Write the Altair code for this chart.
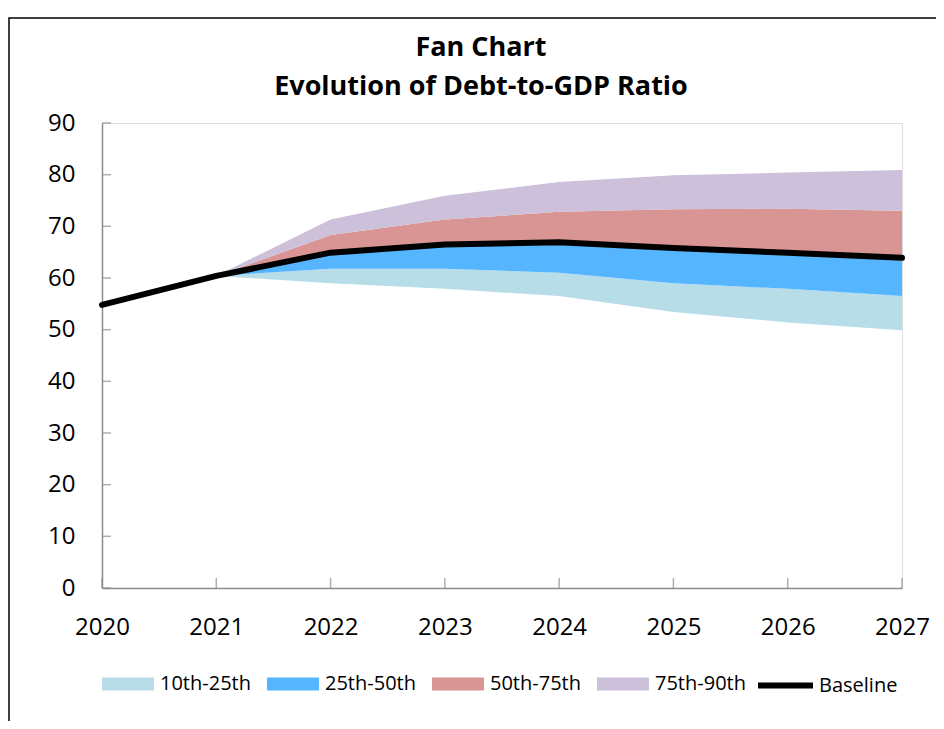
import altair as alt
import pandas as pd

# ---- data ----
years = [2020, 2021, 2022, 2023, 2024, 2025, 2026, 2027]
baseline = [54.8, 60.4, 64.9, 66.5, 66.9, 65.8, 64.9, 63.9]

fan_years = [2021, 2022, 2023, 2024, 2025, 2026, 2027]
p10 = [60.4, 59.0, 57.9, 56.5, 53.4, 51.4, 49.9]
p25 = [60.4, 61.8, 61.8, 61.0, 59.0, 57.9, 56.5]
p50 = [60.4, 64.9, 66.5, 66.9, 65.8, 64.9, 63.9]
p75 = [60.4, 68.3, 71.3, 72.8, 73.3, 73.4, 73.0]
p90 = [60.4, 71.3, 75.9, 78.6, 79.9, 80.4, 80.9]

band_names = ["10th-25th", "25th-50th", "50th-75th", "75th-90th"]
band_colors = ["#B7DDE8", "#55B6FF", "#D99594", "#CCC0DA"]
line_name = "Baseline"
y_ticks = [0, 10, 20, 30, 40, 50, 60, 70, 80, 90]

# ---- tables ----
lows = [p10, p25, p50, p75]
highs = [p25, p50, p75, p90]
rows = []
for b, name in enumerate(band_names):
    for i, yr in enumerate(fan_years):
        rows.append({"year": yr, "band": name, "lo": lows[b][i], "hi": highs[b][i]})
df_bands = pd.DataFrame(rows)
df_line = pd.DataFrame({"year": years, "value": baseline, "series": line_name})
df_xt = pd.DataFrame({"year": years})
df_yt = pd.DataFrame({"v": y_ticks})
df_frame = pd.DataFrame({"f": [0]})

W, H = 800, 465
FONT = "Open Sans"
GRAY = "#8C8C8C"

xscale = alt.Scale(domain=[2020, 2027], nice=False)
yscale = alt.Scale(domain=[0, 90], nice=False)

xaxis = alt.Axis(values=years, format="d", title=None, grid=False, tickSize=0,
                 labelFontSize=24, labelFont=FONT, labelColor="#000000", labelFlush=False,
                 labelPadding=27, domainColor=GRAY, domainWidth=1.5)
yaxis = alt.Axis(values=y_ticks, title=None, grid=False, tickSize=0,
                 labelFontSize=24, labelFont=FONT, labelColor="#000000", labelFlush=False,
                 labelPadding=27, domainColor=GRAY, domainWidth=1.5)

band_legend = alt.Legend(orient="none", legendX=0, legendY=535, direction="horizontal",
                         columns=4, columnPadding=16, title=None, symbolSize=2704,
                         symbolType="M-1,-0.25L1,-0.25L1,0.25L-1,0.25Z",
                         labelFontSize=20, labelFont=FONT, labelColor="#000000",
                         labelOffset=6, symbolStrokeWidth=0)
line_legend = alt.Legend(orient="none", legendX=653, legendY=532, direction="horizontal",
                         title=None, symbolSize=3025, symbolType="stroke",
                         symbolStrokeWidth=6, symbolStrokeColor="#000000",
                         labelFontSize=20, labelFont=FONT, labelColor="#000000",
                         labelOffset=3)

areas = alt.Chart(df_bands).mark_area(opacity=1).encode(
    x=alt.X("year:Q", scale=xscale, axis=xaxis),
    y=alt.Y("lo:Q", scale=yscale, axis=yaxis),
    y2="hi:Q",
    color=alt.Color("band:N", scale=alt.Scale(domain=band_names, range=band_colors),
                    legend=band_legend),
)

line = alt.Chart(df_line).mark_line(strokeWidth=6, strokeCap="round", strokeJoin="round").encode(
    x=alt.X("year:Q", scale=xscale),
    y=alt.Y("value:Q", scale=yscale),
    stroke=alt.Stroke("series:N", scale=alt.Scale(domain=[line_name], range=["#000000"]),
                      legend=line_legend),
)

xticks = alt.Chart(df_xt).mark_tick(color=GRAY, thickness=1.5, size=10).encode(
    x=alt.X("year:Q", scale=xscale),
    y=alt.value(H - 5),
)
yticks = alt.Chart(df_yt).mark_tick(color=GRAY, thickness=1.5, size=9).encode(
    y=alt.Y("v:Q", scale=yscale),
    x=alt.value(4.5),
)

frame = alt.Chart(df_frame).mark_rect(fillOpacity=0, stroke="#000000", strokeWidth=1.5).encode(
    x=alt.value(-93), x2=alt.value(W + 60),
    y=alt.value(-105), y2=alt.value(H + 160),
)

chart = alt.layer(areas, line, xticks, yticks, frame).properties(
    width=W, height=H,
    title=alt.TitleParams(text=["Fan Chart", "Evolution of Debt-to-GDP Ratio"],
                          fontSize=27, font=FONT, fontWeight="bold", color="#000000",
                          lineHeight=39, anchor="middle", frame="group", dx=-21, offset=-84),
    autosize=alt.AutoSizeParams(type="none"),
    padding={"left": 94, "top": 115, "right": 34, "bottom": 133},
).configure_view(stroke=GRAY, strokeWidth=1.5).configure(background="white")

chart.save("out.html", embed_options={"renderer": "svg", "actions": False})
